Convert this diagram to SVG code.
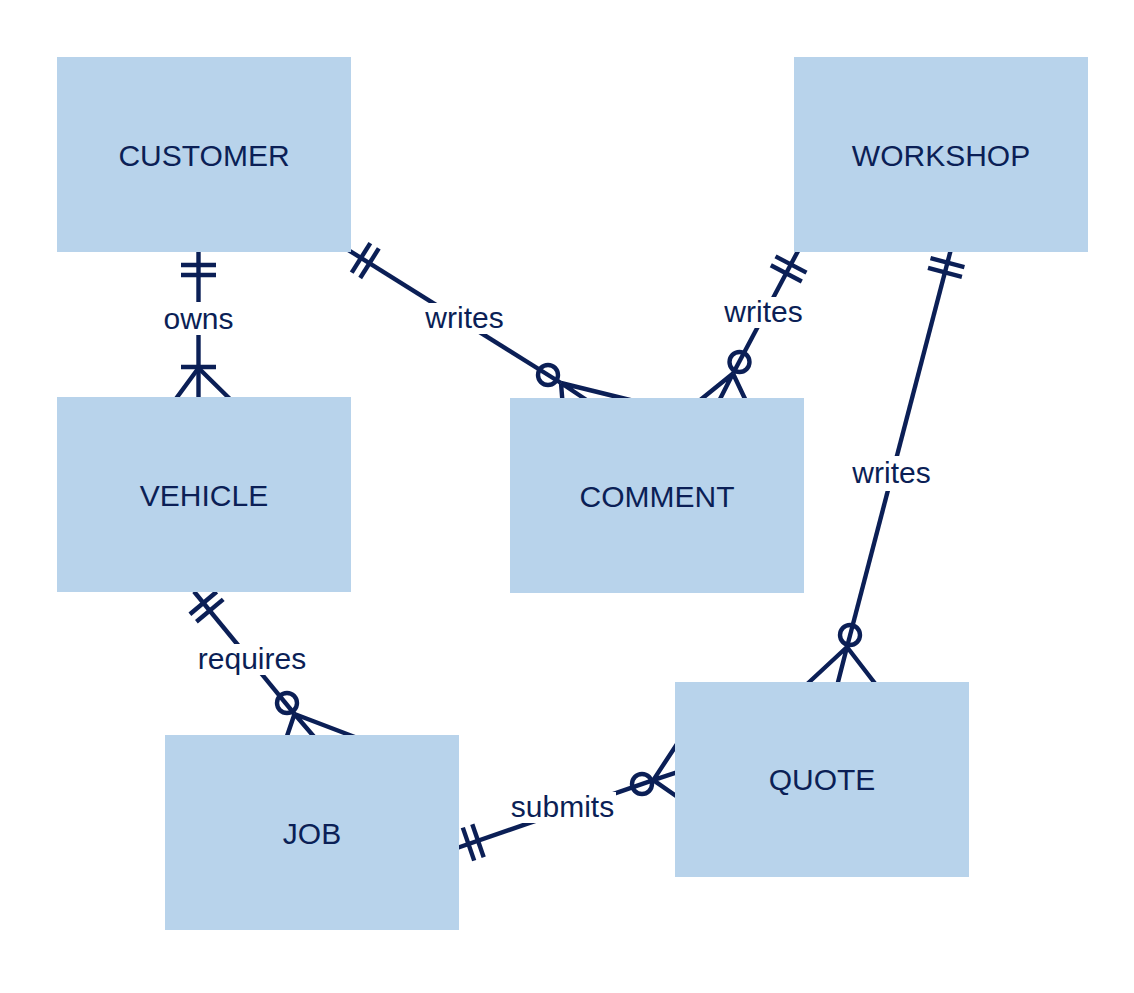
<svg xmlns="http://www.w3.org/2000/svg" width="1134" height="993" viewBox="0 0 1134 993">
<style>
.bg{fill:#ffffff}
.edge line,.edge path{stroke:#0b1f56;stroke-width:4.4;fill:none;stroke-linecap:butt}
.edge circle{stroke:#0b1f56;stroke-width:4.4;fill:none}
.lblbg{fill:#ffffff}
.lbl{font-family:"Liberation Sans",Arial,sans-serif;font-size:30px;fill:#0b1f56;text-anchor:middle}
.node rect{fill:#b8d3eb}
.node text{font-family:"Liberation Sans",Arial,sans-serif;font-size:30px;fill:#0b1f56;text-anchor:middle}
</style>
<rect class="bg" x="0" y="0" width="1134" height="993"/>
<g id="connectors" class="edge">
  <!-- CUSTOMER owns VEHICLE -->
  <g id="e-owns">
    <line x1="198.5" y1="250" x2="198.5" y2="400"/>
    <line x1="181" y1="265" x2="216" y2="265"/>
    <line x1="181" y1="275" x2="216" y2="275"/>
    <line x1="181" y1="367" x2="216" y2="367"/>
    <path d="M198.5,368 L175,400 M198.5,368 L231,400"/>
    <rect class="lblbg" x="163" y="302" width="72" height="33"/>
    <text class="lbl" x="198.5" y="329">owns</text>
  </g>
  <!-- CUSTOMER writes COMMENT -->
  <g id="e-cust-comment">
    <line x1="348" y1="249.8" x2="561" y2="383"/>
    <line x1="351.7" y1="272.7" x2="370.3" y2="243.1"/>
    <line x1="360.2" y1="278" x2="378.8" y2="248.4"/>
    <circle cx="548" cy="375" r="10"/>
    <path d="M561,383 L562.5,402 M561,383 L588,401 M561,383 L634,401"/>
    <rect class="lblbg" x="424" y="303" width="81" height="31"/>
    <text class="lbl" x="464.5" y="328">writes</text>
  </g>
  <!-- WORKSHOP writes COMMENT -->
  <g id="e-work-comment">
    <line x1="798" y1="251" x2="733" y2="373.5"/>
    <line x1="775.5" y1="256.4" x2="806.5" y2="272.6"/>
    <line x1="770.8" y1="265.3" x2="801.8" y2="281.5"/>
    <circle cx="739.5" cy="362" r="10"/>
    <path d="M733,373.5 L699,401 M733,373.5 L719,401 M733,373.5 L746,401"/>
    <rect class="lblbg" x="724" y="297" width="79" height="31"/>
    <text class="lbl" x="763.5" y="322">writes</text>
  </g>
  <!-- WORKSHOP writes QUOTE -->
  <g id="e-work-quote">
    <line x1="950.5" y1="251" x2="847" y2="647"/>
    <line x1="930.5" y1="258.2" x2="964.4" y2="267.1"/>
    <line x1="928" y1="267.9" x2="961.9" y2="276.8"/>
    <circle cx="850" cy="635" r="10"/>
    <path d="M847,647 L805,686 M847,647 L837,686 M847,647 L877,686"/>
    <rect class="lblbg" x="851" y="456" width="81" height="35"/>
    <text class="lbl" x="891.5" y="483">writes</text>
  </g>
  <!-- VEHICLE requires JOB -->
  <g id="e-requires">
    <line x1="194" y1="591.5" x2="294.5" y2="714"/>
    <line x1="189.9" y1="614.2" x2="216.7" y2="591.8"/>
    <line x1="196.4" y1="621.8" x2="223.2" y2="599.4"/>
    <circle cx="287" cy="703" r="10"/>
    <path d="M294.5,714 L286,739 M294.5,714 L316,739 M294.5,714 L360,739"/>
    <rect class="lblbg" x="197" y="644" width="110" height="31"/>
    <text class="lbl" x="252" y="669">requires</text>
  </g>
  <!-- JOB submits QUOTE -->
  <g id="e-submits">
    <line x1="457" y1="848" x2="653.3" y2="780.1"/>
    <line x1="462.8" y1="827.6" x2="474.2" y2="860.6"/>
    <line x1="472.3" y1="824.3" x2="483.7" y2="857.3"/>
    <circle cx="642" cy="784" r="10"/>
    <path d="M653.3,780.1 L679,741 M653.3,780.1 L679,771.7 M653.3,780.1 L679,798"/>
    <rect class="lblbg" x="509" y="792" width="107" height="31"/>
    <text class="lbl" x="562.5" y="817">submits</text>
  </g>
</g>
<g id="node-customer" class="node">
  <rect x="57" y="57" width="294" height="195"/>
  <text x="204" y="166">CUSTOMER</text>
</g>
<g id="node-workshop" class="node">
  <rect x="794" y="57" width="294" height="195"/>
  <text x="941" y="166">WORKSHOP</text>
</g>
<g id="node-vehicle" class="node">
  <rect x="57" y="397" width="294" height="195"/>
  <text x="204" y="506">VEHICLE</text>
</g>
<g id="node-comment" class="node">
  <rect x="510" y="398" width="294" height="195"/>
  <text x="657" y="507">COMMENT</text>
</g>
<g id="node-job" class="node">
  <rect x="165" y="735" width="294" height="195"/>
  <text x="312" y="844">JOB</text>
</g>
<g id="node-quote" class="node">
  <rect x="675" y="682" width="294" height="195"/>
  <text x="822" y="790">QUOTE</text>
</g>
</svg>
